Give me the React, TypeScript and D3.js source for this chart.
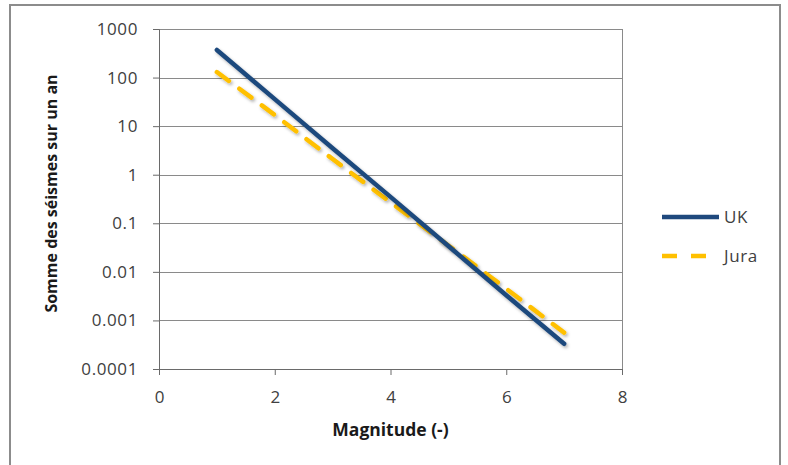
import React, { useEffect, useRef } from 'react';
import * as d3 from 'd3';

// magnitude vs. yearly sum of earthquakes (log scale)
const magnitudes = [1, 2, 3, 4, 5, 6, 7];
const ukValues = [370, 36, 3.5, 0.35, 0.034, 0.0033, 0.00033];
const juraValues = [130, 17, 2.1, 0.27, 0.035, 0.0045, 0.00056];

const seriesNames = ['UK', 'Jura'];
const yTicks = [1000, 100, 10, 1, 0.1, 0.01, 0.001, 0.0001];
const yTickLabels = ['1000', '100', '10', '1', '0.1', '0.01', '0.001', '0.0001'];
const xTicks = [0, 2, 4, 6, 8];

const yTitle = 'Somme des séismes sur un an';
const xTitle = 'Magnitude (-)';

const font = "'Open Sans', 'Noto Sans', sans-serif";

export default function App() {
	const svgRef = useRef<SVGSVGElement>(null);

	useEffect(() => {
		const W = 788;
		const H = 465;
		const margin = { top: 29, right: 166, bottom: 96, left: 159 };
		const width = W - margin.left - margin.right;
		const height = H - margin.top - margin.bottom;

		const root = d3.select(svgRef.current);
		root.selectAll('*').remove();

		const defs = root.append('defs');
		const f = defs.append('filter').attr('id', 'shadow').attr('x', '-10%').attr('y', '-10%').attr('width', '130%').attr('height', '130%');
		f.append('feDropShadow')
			.attr('dx', 1.5)
			.attr('dy', 2)
			.attr('stdDeviation', 1.5)
			.attr('flood-color', '#000')
			.attr('flood-opacity', 0.3);

		// outer chart border
		root.append('rect')
			.attr('x', 10)
			.attr('y', 5)
			.attr('width', 770)
			.attr('height', 480)
			.attr('fill', '#fff')
			.attr('stroke', '#8c8c8c')
			.attr('stroke-width', 2);

		const svg = root.append('g').attr('transform', 'translate(' + margin.left + ',' + margin.top + ')');

		const x = d3.scaleLinear().domain([0, 8]).range([0, width]);
		const y = d3.scaleLog().domain([0.0001, 1000]).range([height, 0]);

		// gridlines
		svg.append('g')
			.selectAll('line')
			.data(yTicks)
			.enter()
			.append('line')
			.attr('x1', 0)
			.attr('x2', width)
			.attr('y1', (d) => Math.round(y(d)) + 0.5)
			.attr('y2', (d) => Math.round(y(d)) + 0.5)
			.attr('stroke', '#8a8a8a')
			.attr('stroke-width', 1);

		// right edge of plot area
		svg.append('line')
			.attr('x1', Math.round(width) + 0.5)
			.attr('x2', Math.round(width) + 0.5)
			.attr('y1', 0)
			.attr('y2', height)
			.attr('stroke', '#8a8a8a');

		// Y axis
		const yAxis = svg.append('g')
			.call(
				d3.axisLeft(y)
					.tickValues(yTicks)
					.tickSize(6)
					.tickFormat((d, i) => yTickLabels[i])
			);
		yAxis.select('.domain').attr('stroke', '#6a6a6a');
		yAxis.selectAll('.tick line').attr('stroke', '#6a6a6a');
		yAxis.selectAll('.tick text')
			.attr('x', -21)
			.attr('fill', '#404040')
			.style('font-family', font)
			.style('font-size', '17px')
			.style('letter-spacing', '0.6px');

		// X axis
		const xAxis = svg.append('g')
			.attr('transform', 'translate(0,' + height + ')')
			.call(d3.axisBottom(x).tickValues(xTicks).tickSize(6));
		xAxis.select('.domain').attr('stroke', '#6a6a6a');
		xAxis.selectAll('.tick line').attr('stroke', '#6a6a6a');
		xAxis.selectAll('.tick text')
			.attr('y', 22)
			.attr('fill', '#404040')
			.style('font-family', font)
			.style('font-size', '17px');

		// series
		const series = [
			{ name: seriesNames[0], values: ukValues, color: '#1F497D', dash: null },
			{ name: seriesNames[1], values: juraValues, color: '#FFC000', dash: '15,13' }
		];
		const line = d3.line<number>()
			.x((d, i) => x(magnitudes[i]))
			.y((d) => y(d));

		// draw Jura first, UK on top
		[series[1], series[0]].forEach((s) => {
			svg.append('path')
				.datum(s.values)
				.attr('d', line)
				.attr('fill', 'none')
				.attr('stroke', s.color)
				.attr('stroke-width', 4.5)
				.attr('stroke-linecap', 'round')
				.attr('stroke-dasharray', s.dash)
				.attr('filter', 'url(#shadow)');
		});

		// axis titles
		root.append('text')
			.attr('transform', 'translate(57,' + 193.5 + ') rotate(-90)')
			.attr('text-anchor', 'middle')
			.style('font-family', font)
			.style('font-size', '16px')
			.style('font-weight', 'bold')
			.attr('fill', '#1a1a1a')
			.text(yTitle);

		root.append('text')
			.attr('x', margin.left + x(4))
			.attr('y', 436)
			.attr('text-anchor', 'middle')
			.style('font-family', font)
			.style('font-size', '17.5px')
			.style('font-weight', 'bold')
			.attr('fill', '#1a1a1a')
			.text(xTitle);

		// legend
		const legend = root.append('g').attr('transform', 'translate(662,217)');
		series.forEach((s, i) => {
			const g = legend.append('g').attr('transform', 'translate(0,' + i * 39 + ')');
			g.append('line')
				.attr('x1', 0)
				.attr('x2', 57)
				.attr('y1', 0)
				.attr('y2', 0)
				.attr('stroke', s.color)
				.attr('stroke-width', 4.5)
				.attr('stroke-dasharray', s.dash ? '15,14' : null);
			g.append('text')
				.attr('x', 62)
				.attr('y', 0)
				.attr('dy', '0.35em')
				.attr('fill', '#404040')
				.style('font-family', font)
				.style('font-size', '17px')
				.style('letter-spacing', '0.6px')
				.text(s.name);
		});
	}, []);

	return (
		<svg
			ref={svgRef}
			width={788}
			height={465}
			style={{ position: 'absolute', top: 0, left: 0, display: 'block' }}
		/>
	);
}
